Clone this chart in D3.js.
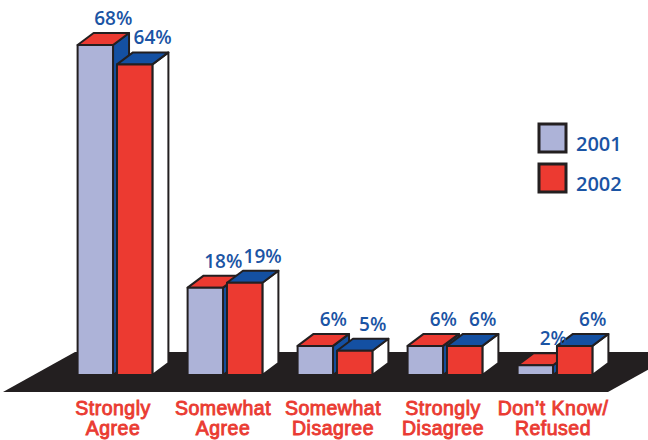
<!DOCTYPE html>
<html>
<head>
<meta charset="utf-8">
<script src="https://cdn.jsdelivr.net/npm/d3@7/dist/d3.min.js"></script>
<style>
  html, body { margin: 0; padding: 0; background: #fff; }
  svg { display: block; }
  text { font-family: "Open Sans", "Noto Sans", sans-serif; }
  text.cat { font-family: "Liberation Sans", Arial, sans-serif; }
</style>
</head>
<body>
<script>
// Survey responses, share of respondents per answer
const categories = ["Strongly Agree", "Somewhat Agree", "Somewhat Disagree", "Strongly Disagree", "Don’t Know/ Refused"];
const categoryLines = [["Strongly", "Agree"], ["Somewhat", "Agree"], ["Somewhat", "Disagree"], ["Strongly", "Disagree"], ["Don’t Know/", "Refused"]];
const seriesNames = ["2001", "2002"];
const values2001 = [68, 18, 6, 6, 2];
const values2002 = [64, 19, 5, 6, 6];
const valueSuffix = "%";

const W = 648, H = 440;
const depthX = 16, depthY = 12;
const outline = "#231f20";
const labelBlue = "#1b54a4";
const catRed = "#ea3b32";

// face colours per series: front, top, side
const faces = {
  "2001": { front: "#adb3d8", top: "#ec3a31", side: "#1450a2" },
  "2002": { front: "#ec3a31", top: "#1450a2", side: "#ffffff" }
};

const svg = d3.select("body").append("svg")
  .attr("width", W).attr("height", H);

const x = d3.scaleBand().domain(categories)
  .range([60, 610]).paddingInner(0.32).paddingOuter(0.16);
const xs = d3.scaleBand().domain(seriesNames)
  .range([0, x.bandwidth()]).paddingInner(0.1);
const y = d3.scaleLinear().domain([0, 68]).range([375, 45]);
const base = y(0);

// black floor the columns stand on
svg.append("path")
  .attr("d", `M3,${base + 17} L75,${base - 23} L680,${base - 23} L608,${base + 17} Z`)
  .attr("fill", outline);

const rows = categories.map((c, i) => ({ cat: c, vals: [values2001[i], values2002[i]] }));

rows.forEach(row => {
  seriesNames.forEach((s, si) => {
    const v = row.vals[si];
    const x0 = x(row.cat) + xs(s);
    const x1 = x0 + xs.bandwidth();
    const yt = y(v);
    const col = faces[s];
    const g = svg.append("g")
      .attr("stroke", outline).attr("stroke-width", 2).attr("stroke-linejoin", "round");
    // right side face
    g.append("path")
      .attr("d", `M${x1},${base} L${x1 + depthX},${base - depthY} L${x1 + depthX},${yt - depthY} L${x1},${yt} Z`)
      .attr("fill", col.side);
    // top face
    g.append("path")
      .attr("d", `M${x0},${yt} L${x0 + depthX},${yt - depthY} L${x1 + depthX},${yt - depthY} L${x1},${yt} Z`)
      .attr("fill", col.top);
    // front face
    g.append("rect")
      .attr("x", x0).attr("y", yt)
      .attr("width", x1 - x0).attr("height", base - yt)
      .attr("fill", col.front);
  });
});

// value labels above each column
rows.forEach(row => {
  seriesNames.forEach((s, si) => {
    const v = row.vals[si];
    svg.append("text")
      .attr("x", x(row.cat) + xs(s) + xs.bandwidth() / 2 + 18)
      .attr("y", y(v) - 20)
      .attr("text-anchor", "middle")
      .attr("font-size", 19).attr("font-weight", 600)
      .attr("fill", labelBlue)
      .text(v + valueSuffix);
  });
});

// category labels under the floor
categories.forEach((c, i) => {
  const cx = x(c) + x.bandwidth() / 2 - 2;
  categoryLines[i].forEach((line, li) => {
    svg.append("text")
      .attr("class", "cat")
      .attr("x", cx)
      .attr("y", 415 + li * 20)
      .attr("text-anchor", "middle")
      .attr("font-size", 19.5).attr("font-weight", 400)
      .attr("letter-spacing", 0.5)
      .attr("stroke", catRed).attr("stroke-width", 0.9)
      .attr("fill", catRed)
      .text(line);
  });
});

// legend
const legend = svg.append("g").attr("transform", "translate(539,124)");
seriesNames.forEach((s, i) => {
  const g = legend.append("g").attr("transform", `translate(0,${i * 40})`);
  g.append("rect")
    .attr("width", 27).attr("height", 28)
    .attr("fill", faces[s].front)
    .attr("stroke", outline).attr("stroke-width", 3);
  g.append("text")
    .attr("x", 37).attr("y", 27)
    .attr("font-size", 20).attr("font-weight", 600)
    .attr("fill", labelBlue)
    .text(s);
});
</script>
</body>
</html>
